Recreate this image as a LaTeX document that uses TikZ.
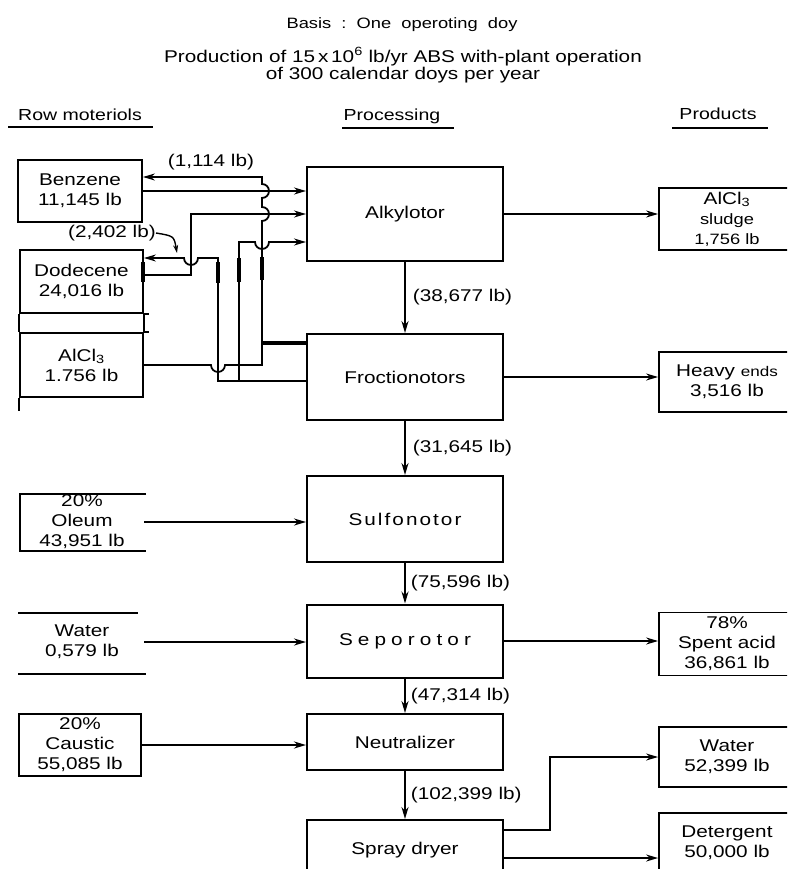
\documentclass[tikz,border=0pt]{standalone}
\usepackage{fontspec}
\setmainfont{Liberation Sans}[FakeStretch=1.22]
\usetikzlibrary{arrows.meta}
\tikzset{
  procbox/.style={rectangle,draw,line width=2pt,minimum width=196pt,
    font=\fontsize{17}{20}\selectfont},
  rawtext/.style={align=center,inner sep=0pt,font=\fontsize{17}{20}\selectfont},
  rawbox/.style={rawtext,draw,line width=1.8pt},
  prodbox/.style={rectangle,draw,line width=1.8pt,minimum width=136pt,
    align=center,inner sep=0pt,font=\fontsize{17}{20}\selectfont},
  flow/.style={line width=1.8pt,-{Stealth[length=12pt,width=7pt]}},
  pipe/.style={line width=1.7pt},
  heavypipe/.style={line width=3.6pt},
  flowlabel/.style={anchor=west,inner sep=0pt,font=\fontsize{17}{20}\selectfont},
  headtext/.style={inner sep=0pt,font=\fontsize{16}{19}\selectfont},
  titletext/.style={align=center,inner sep=0pt,font=\fontsize{17}{17}\selectfont}
}

\begin{document}
\begin{tikzpicture}[x=1pt,y=-1pt]
  \useasboundingbox (0,0) rectangle (787,869);
  \clip (0,0) rectangle (787,869);

  % heading
  \node[inner sep=0pt,font=\fontsize{15}{18}\selectfont] (basis) at (402,25)
    {Basis\ \ :\ \ One\ \ operoting\ \ doy};
  \node[titletext] (prodn) at (403,65)
    {Production of 15\,x\,10\textsuperscript{6} lb/yr ABS with-plant operation\\
     of 300 calendar doys per year};

  \node[headtext] (rawhead) at (80,115) {Row moteriols};
  \node[headtext] (prochead) at (392,116) {Processing};
  \node[headtext] (prodhead) at (718,114) {Products};
  \draw[line width=1.5pt] (8,127) -- (153,127) (342,128) -- (454,128)
    (672,128) -- (768,128);

  % processing column
  \node[procbox,minimum height=93pt] (alky) at (405,214) {Alkylotor};
  \node[procbox,minimum height=86pt] (frac) at (405,377) {Froctionotors};
  \node[procbox,minimum height=86pt] (sulf) at (405,519)
    {\addfontfeature{LetterSpace=12}Sulfonotor};
  \node[procbox,minimum height=73pt] (sep) at (405,641)
    {\addfontfeature{LetterSpace=30}Seporotor};
  \node[procbox,minimum height=56pt] (neut) at (405,742) {Neutralizer};
  \node[procbox,minimum height=60pt] (spray) at (405,850) {Spray dryer};

  % raw materials
  \node[rawbox,minimum width=124pt,minimum height=62pt] (benz) at (80,191)
    {Benzene\\11,145 lb};
  \node[rawbox,minimum width=123pt,minimum height=63pt] (dode) at (81.5,281.5)
    {Dodecene\\24,016 lb};
  \node[rawbox,minimum width=123pt,minimum height=64pt] (alcl) at (81.5,365)
    {AlCl\textsubscript{3}\\1.756 lb};
  \draw[pipe] (dode.south west) -- (alcl.north west)
    (dode.south east) -- (alcl.north east)
    (alcl.south west) -- ++(0,13)
    (dode.south east) -- ++(5,0) (alcl.north east) -- ++(5,0);
  \draw[heavypipe] (143,262) -- (143,282);

  \draw[pipe] (146,494) -- (20,494) -- (20,551) -- (146,551);
  \node[rawtext,minimum width=124pt] (oleum) at (82,522)
    {20\%\\Oleum\\43,951 lb};
  \draw[pipe] (18,613) -- (138,613) (18,674) -- (146,674);
  \node[rawtext,minimum width=124pt] (water) at (82,642)
    {Water\\0,579 lb};
  \node[rawbox,minimum width=122pt,minimum height=62pt] (caus) at (80,745)
    {20\%\\Caustic\\55,085 lb};

  % products
  \node[prodbox,minimum height=62pt] (sludge) at (727,219)
    {AlCl\textsubscript{3}\\{\fontsize{15}{18}\selectfont sludge}\\
     {\fontsize{15}{18}\selectfont 1,756 lb}};
  \node[prodbox,minimum height=60pt] (heavy) at (727,382)
    {Heavy {\fontsize{14}{16}\selectfont ends}\\3,516 lb};
  \node[prodbox,minimum height=63pt] (spent) at (727,644)
    {78\%\\Spent acid\\36,861 lb};
  \node[prodbox,minimum height=60pt] (wprod) at (727,757)
    {Water\\52,399 lb};
  \node[prodbox,minimum height=60pt] (deter) at (727,843)
    {Detergent\\50,000 lb};

  % main stream
  \draw[flow] (alky.south) -- node[flowlabel,right=7pt] {(38,677 lb)} (frac.north);
  \draw[flow] (frac.south) -- node[flowlabel,right=7pt] {(31,645 lb)} (sulf.north);
  \draw[flow] (sulf.south) -- node[flowlabel,right=5pt] {(75,596 lb)} (sep.north);
  \draw[flow] (sep.south) -- node[flowlabel,right=5pt] {(47,314 lb)} (neut.north);
  \draw[flow] (neut.south) -- node[flowlabel,right=5pt] {(102,399 lb)} (spray.north);

  % side streams
  \draw[flow] (alky.east) -- (alky.east -| sludge.west);
  \draw[flow] (frac.east) -- (frac.east -| heavy.west);
  \draw[flow] (oleum.east) -- (oleum.east -| sulf.west);
  \draw[flow] (water.east) -- (water.east -| sep.west);
  \draw[flow] (sep.east) -- (sep.east -| spent.west);
  \draw[flow,line width=2.8pt] (caus.east) -- (caus.east -| neut.west);
  \draw[flow] (spray.east |- 0,830) -- (550,830) |- (wprod.west);
  \draw[flow] (spray.east |- 0,858) -- (deter.west |- 0,858);

  % feeds and recycles round the alkylator
  \draw[flow] (benz.east) -- (benz.east -| alky.west);
  \draw[flow] (dode.east |- 0,275) -- (191,275) -- (191,214)
    -- (alky.west |- 0,214);
  \draw[flow] (frac.west |- 0,343) -- (262,343) -- (262,221)
    arc[start angle=90,end angle=-90,radius=7] -- (262,198)
    arc[start angle=90,end angle=-90,radius=7] -- (262,177)
    -- (benz.east |- 0,177);
  \draw[flow] (frac.west |- 0,381) -- (218,381) -- (218,258) -- (198,258)
    arc[start angle=0,end angle=180,radius=7] -- (dode.east |- 0,258);
  \draw[flow] (239,381) -- (239,242) -- (255,242)
    arc[start angle=180,end angle=0,radius=7] -- (alky.west |- 0,242);
  \draw[pipe] (alcl.east) -- (211,365)
    arc[start angle=180,end angle=0,radius=7] -- (262,365) -- (262,343);
  \draw[heavypipe] (262,343) -- (frac.west |- 0,343);
  \draw[heavypipe] (262,257) -- (262,280) (218,262) -- (218,283)
    (239,258) -- (239,282);

  \node[flowlabel,anchor=center] (l1114) at (211,162) {(1,114 lb)};
  \node[flowlabel,anchor=center] (l2402) at (112,233) {(2,402 lb)};
  \draw[line width=1.4pt,-{Stealth[length=8pt,width=5pt]}] (l2402.east)
    .. controls (174,236) .. (177,253);
\end{tikzpicture}
\end{document}
